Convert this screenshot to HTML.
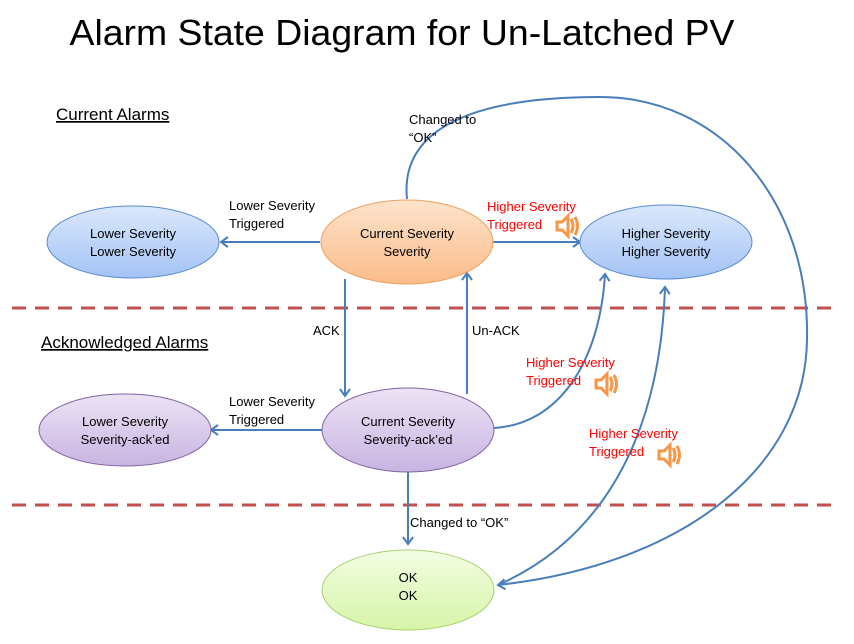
<!DOCTYPE html>
<html><head><meta charset="utf-8"><style>
html,body{margin:0;padding:0;background:#fff;}
svg{display:block;font-family:"Liberation Sans",sans-serif;}
</style></head><body>
<svg width="854" height="644" viewBox="0 0 854 644" xmlns="http://www.w3.org/2000/svg">
<defs>
<marker id="a" markerWidth="12" markerHeight="12" refX="9" refY="6" orient="auto" markerUnits="userSpaceOnUse">
<polyline points="2,1 9,6 2,11" fill="none" stroke="#4a7ebb" stroke-width="2"/>
</marker>
<linearGradient id="gb" x1="0" y1="0" x2="0" y2="1"><stop offset="0" stop-color="#dbe8fc"/><stop offset="1" stop-color="#a3c3f5"/></linearGradient>
<linearGradient id="go" x1="0" y1="0" x2="0" y2="1"><stop offset="0" stop-color="#fde3cc"/><stop offset="1" stop-color="#fbbd89"/></linearGradient>
<linearGradient id="gp" x1="0" y1="0" x2="0" y2="1"><stop offset="0" stop-color="#ece3f5"/><stop offset="1" stop-color="#c8b4e2"/></linearGradient>
<linearGradient id="gg" x1="0" y1="0" x2="0" y2="1"><stop offset="0" stop-color="#f3fde3"/><stop offset="1" stop-color="#d6f5a8"/></linearGradient>
<g id="spk"><path d="M0,-4 h5 l6,-6 v20 l-6,-6 h-5 z" fill="none" stroke="#f79646" stroke-width="3"/><path d="M14,-7 q4,7 0,14 M18,-9 q5,9 0,18" fill="none" stroke="#f79646" stroke-width="3"/></g>
</defs>
<text x="402" y="45" font-size="36" text-anchor="middle" textLength="665" lengthAdjust="spacingAndGlyphs">Alarm State Diagram for Un-Latched PV</text>
<text x="56" y="120" font-size="17" text-decoration="underline">Current Alarms</text>
<text x="41" y="348" font-size="17" text-decoration="underline">Acknowledged Alarms</text>
<line x1="12" y1="308" x2="840" y2="308" stroke="#c0504d" stroke-width="3" stroke-dasharray="14,9"/>
<line x1="12" y1="505" x2="840" y2="505" stroke="#c0504d" stroke-width="3" stroke-dasharray="14,9"/>
<g fill="none" stroke="#4a7ebb" stroke-width="2">
<path d="M407,199 C400,130 470,97 600,97 C720,97 810,200 807,340 C805,470 680,565 498,585" marker-end="url(#a)"/>
<path d="M498,585 C600,540 660,440 665,287" marker-end="url(#a)"/>
<path d="M493,428 C560,425 600,360 605,274" marker-end="url(#a)"/>
<line x1="320" y1="242" x2="221" y2="242" marker-end="url(#a)"/>
<line x1="493" y1="242" x2="580" y2="242" marker-end="url(#a)"/>
<line x1="345" y1="279" x2="345" y2="396" marker-end="url(#a)"/>
<line x1="467" y1="394" x2="467" y2="273" marker-end="url(#a)"/>
<line x1="322" y1="430" x2="211" y2="430" marker-end="url(#a)"/>
<line x1="408" y1="472" x2="408" y2="544" marker-end="url(#a)"/>
</g>
<ellipse cx="133" cy="242" rx="86" ry="36" fill="url(#gb)" stroke="#5b8bd0"/>
<ellipse cx="407" cy="242" rx="86" ry="42" fill="url(#go)" stroke="#f0a060"/>
<ellipse cx="666" cy="242" rx="86" ry="37" fill="url(#gb)" stroke="#5b8bd0"/>
<ellipse cx="125" cy="430" rx="86" ry="36" fill="url(#gp)" stroke="#8064a2"/>
<ellipse cx="408" cy="430" rx="86" ry="42" fill="url(#gp)" stroke="#8064a2"/>
<ellipse cx="408" cy="590" rx="86" ry="40" fill="url(#gg)" stroke="#a8d070"/>
<g font-size="13" text-anchor="middle">
<text x="133" y="238">Lower Severity</text><text x="133" y="256">Lower Severity</text>
<text x="407" y="238">Current Severity</text><text x="407" y="256">Severity</text>
<text x="666" y="238">Higher Severity</text><text x="666" y="256">Higher Severity</text>
<text x="125" y="426">Lower Severity</text><text x="125" y="444">Severity-ack’ed</text>
<text x="408" y="426">Current Severity</text><text x="408" y="444">Severity-ack’ed</text>
<text x="408" y="582">OK</text><text x="408" y="600">OK</text>
</g>
<g font-size="13">
<text x="229" y="210">Lower Severity</text><text x="229" y="228">Triggered</text>
<text x="229" y="406">Lower Severity</text><text x="229" y="424">Triggered</text>
<text x="409" y="124">Changed to</text><text x="409" y="142">“OK”</text>
<text x="313" y="335">ACK</text>
<text x="472" y="335">Un-ACK</text>
<text x="410" y="527">Changed to “OK”</text>
</g>
<g font-size="13" fill="#ff0000">
<text x="487" y="211">Higher Severity</text><text x="487" y="229">Triggered</text>
<text x="526" y="367">Higher Severity</text><text x="526" y="385">Triggered</text>
<text x="589" y="438">Higher Severity</text><text x="589" y="456">Triggered</text>
</g>
<use href="#spk" x="557" y="226"/>
<use href="#spk" x="596" y="384"/>
<use href="#spk" x="659" y="455"/>
</svg>
</body></html>
